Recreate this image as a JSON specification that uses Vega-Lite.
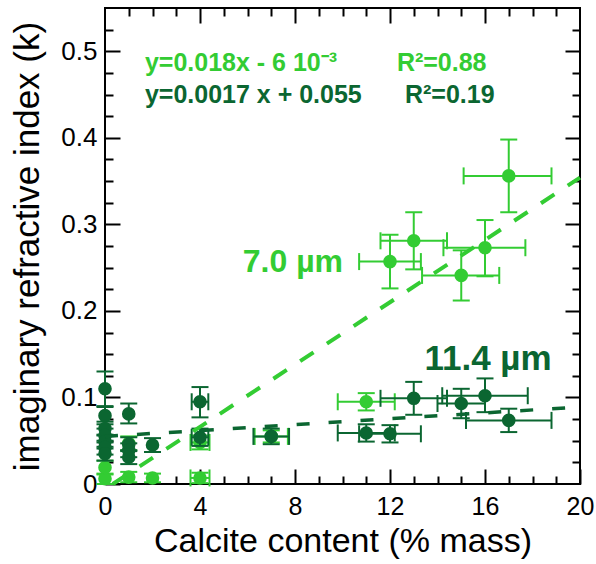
{
  "$schema": "https://vega.github.io/schema/vega-lite/v6.json",
  "width": 475,
  "height": 476,
  "autosize": "none",
  "padding": {"left": 105, "top": 8, "right": 16, "bottom": 80},
  "config": {
    "view": {"stroke": "black", "strokeWidth": 2},
    "font": "Liberation Sans",
    "axis": {"grid": false, "domain": false, "tickColor": "black", "tickWidth": 2, "labelColor": "black", "titleColor": "black", "zindex": 1}
  },
  "datasets": {
    "light": [
      {"x": 0, "y": 0.006, "xlo": null, "xhi": null, "ylo": 0.0, "yhi": 0.012},
      {"x": 0, "y": 0.019, "xlo": null, "xhi": null, "ylo": 0.011, "yhi": 0.027},
      {"x": 1, "y": 0.008, "xlo": null, "xhi": null, "ylo": 0.002, "yhi": 0.014},
      {"x": 1, "y": 0.047, "xlo": null, "xhi": null, "ylo": 0.039, "yhi": 0.055},
      {"x": 2, "y": 0.007, "xlo": null, "xhi": null, "ylo": 0.002, "yhi": 0.012},
      {"x": 4, "y": 0.007, "xlo": 3.6, "xhi": 4.4, "ylo": 0.001, "yhi": 0.013},
      {"x": 4, "y": 0.048, "xlo": 3.6, "xhi": 4.4, "ylo": 0.04, "yhi": 0.056},
      {"x": 7, "y": 0.055, "xlo": 6.3, "xhi": 7.7, "ylo": 0.048, "yhi": 0.062},
      {"x": 11, "y": 0.095, "xlo": 9.8, "xhi": 12.2, "ylo": 0.085, "yhi": 0.105},
      {"x": 12, "y": 0.257, "xlo": 10.7, "xhi": 13.3, "ylo": 0.226, "yhi": 0.288},
      {"x": 13, "y": 0.281, "xlo": 11.6, "xhi": 14.4, "ylo": 0.248, "yhi": 0.314},
      {"x": 15, "y": 0.241, "xlo": 13.35, "xhi": 16.6, "ylo": 0.212, "yhi": 0.27},
      {"x": 16, "y": 0.273, "xlo": 14.25, "xhi": 17.7, "ylo": 0.24, "yhi": 0.305},
      {"x": 17, "y": 0.356, "xlo": 15.1, "xhi": 18.8, "ylo": 0.314, "yhi": 0.398}
    ],
    "dark": [
      {"x": 0, "y": 0.11, "xlo": null, "xhi": null, "ylo": 0.09, "yhi": 0.13},
      {"x": 0, "y": 0.079, "xlo": null, "xhi": null, "ylo": 0.069, "yhi": 0.089},
      {"x": 0, "y": 0.064, "xlo": null, "xhi": null, "ylo": 0.056, "yhi": 0.072},
      {"x": 0, "y": 0.056, "xlo": null, "xhi": null, "ylo": 0.048, "yhi": 0.064},
      {"x": 0, "y": 0.049, "xlo": null, "xhi": null, "ylo": 0.041, "yhi": 0.057},
      {"x": 0, "y": 0.042, "xlo": null, "xhi": null, "ylo": 0.034, "yhi": 0.05},
      {"x": 0, "y": 0.035, "xlo": null, "xhi": null, "ylo": 0.027, "yhi": 0.043},
      {"x": 1, "y": 0.081, "xlo": null, "xhi": null, "ylo": 0.07, "yhi": 0.093},
      {"x": 1, "y": 0.046, "xlo": null, "xhi": null, "ylo": 0.038, "yhi": 0.054},
      {"x": 1, "y": 0.039, "xlo": null, "xhi": null, "ylo": 0.031, "yhi": 0.047},
      {"x": 1, "y": 0.031, "xlo": null, "xhi": null, "ylo": 0.023, "yhi": 0.039},
      {"x": 2, "y": 0.045, "xlo": null, "xhi": null, "ylo": 0.037, "yhi": 0.053},
      {"x": 4, "y": 0.095, "xlo": 3.65, "xhi": 4.35, "ylo": 0.077, "yhi": 0.112},
      {"x": 4, "y": 0.054, "xlo": 3.65, "xhi": 4.35, "ylo": 0.044, "yhi": 0.064},
      {"x": 7, "y": 0.055, "xlo": 6.25, "xhi": 7.75, "ylo": 0.046, "yhi": 0.064},
      {"x": 11, "y": 0.059, "xlo": 9.8, "xhi": 12.2, "ylo": 0.049, "yhi": 0.069},
      {"x": 12, "y": 0.058, "xlo": 10.7, "xhi": 13.3, "ylo": 0.048, "yhi": 0.068},
      {"x": 13, "y": 0.099, "xlo": 11.6, "xhi": 14.4, "ylo": 0.08, "yhi": 0.118},
      {"x": 15, "y": 0.093, "xlo": 14.0, "xhi": 16.0, "ylo": 0.076, "yhi": 0.11},
      {"x": 16, "y": 0.102, "xlo": 14.2, "xhi": 17.8, "ylo": 0.083, "yhi": 0.122},
      {"x": 17, "y": 0.0735, "xlo": 15.2, "xhi": 18.8, "ylo": 0.06, "yhi": 0.087}
    ]
  },
  "data": {"name": "light"},
  "layer": [
    {
      "mark": {"type": "point", "opacity": 0},
      "encoding": {
        "x": {"field": "x", "type": "quantitative", "scale": {"domain": [0, 20], "nice": false, "zero": false},
          "axis": {"orient": "bottom", "values": [0, 4, 8, 12, 16, 20], "tickSize": -15, "labelFontSize": 25, "labelPadding": 25, "labelFlush": false,
            "title": "Calcite content (% mass)", "titleFontSize": 34, "titleFontWeight": "normal", "titlePadding": 5}},
        "y": {"field": "y", "type": "quantitative", "scale": {"domain": [0, 0.55], "nice": false, "zero": false},
          "axis": {"orient": "left", "values": [0, 0.1, 0.2, 0.3, 0.4, 0.5], "tickSize": -15, "labelFontSize": 26, "labelPadding": 23, "labelFlush": false,
            "labelExpr": "datum.value == 0 ? '0' : format(datum.value, '.1f')",
            "title": "imaginary refractive index (k)", "titleFontSize": 35, "titleFontWeight": "normal", "titlePadding": 15}}
      }
    },
    {
      "mark": {"type": "point", "opacity": 0},
      "encoding": {
        "x": {"field": "x", "type": "quantitative",
          "axis": {"orient": "bottom", "values": [1, 2, 3, 5, 6, 7, 9, 10, 11, 13, 14, 15, 17, 18, 19], "tickSize": -8, "labels": false, "title": null}},
        "y": {"field": "y", "type": "quantitative",
          "axis": {"orient": "left", "values": [0.025, 0.05, 0.075, 0.125, 0.15, 0.175, 0.225, 0.25, 0.275, 0.325, 0.35, 0.375, 0.425, 0.45, 0.475, 0.525], "tickSize": -8, "labels": false, "title": null}}
      }
    },
    {
      "mark": {"type": "point", "opacity": 0},
      "encoding": {
        "x": {"field": "x", "type": "quantitative",
          "axis": {"orient": "top", "values": [4, 8, 12, 16], "tickSize": -15, "labels": false, "title": null}},
        "y": {"field": "y", "type": "quantitative",
          "axis": {"orient": "right", "values": [0.1, 0.2, 0.3, 0.4, 0.5], "tickSize": -15, "labels": false, "title": null}}
      }
    },
    {
      "mark": {"type": "point", "opacity": 0},
      "encoding": {
        "x": {"field": "x", "type": "quantitative",
          "axis": {"orient": "top", "values": [1, 2, 3, 5, 6, 7, 9, 10, 11, 13, 14, 15, 17, 18, 19], "tickSize": -8, "labels": false, "title": null}},
        "y": {"field": "y", "type": "quantitative",
          "axis": {"orient": "right", "values": [0.025, 0.05, 0.075, 0.125, 0.15, 0.175, 0.225, 0.25, 0.275, 0.325, 0.35, 0.375, 0.425, 0.45, 0.475, 0.525], "tickSize": -8, "labels": false, "title": null}}
      }
    },
    {
      "data": {"name": "light"},
      "layer": [
        {"mark": {"type": "rule", "color": "#33cc33", "strokeWidth": 2},
          "encoding": {"x": {"field": "xlo", "type": "quantitative", "axis": null}, "x2": {"field": "xhi"}, "y": {"field": "y", "type": "quantitative", "axis": null}}},
        {"mark": {"type": "rule", "color": "#33cc33", "strokeWidth": 2},
          "encoding": {"x": {"field": "x", "type": "quantitative", "axis": null}, "y": {"field": "ylo", "type": "quantitative", "axis": null}, "y2": {"field": "yhi"}}},
        {"mark": {"type": "tick", "orient": "vertical", "size": 17, "thickness": 2, "color": "#33cc33", "opacity": 1},
          "encoding": {"x": {"field": "xlo", "type": "quantitative", "axis": null}, "y": {"field": "y", "type": "quantitative", "axis": null}}},
        {"mark": {"type": "tick", "orient": "vertical", "size": 17, "thickness": 2, "color": "#33cc33", "opacity": 1},
          "encoding": {"x": {"field": "xhi", "type": "quantitative", "axis": null}, "y": {"field": "y", "type": "quantitative", "axis": null}}},
        {"mark": {"type": "tick", "orient": "horizontal", "size": 17, "thickness": 2, "color": "#33cc33", "opacity": 1},
          "encoding": {"x": {"field": "x", "type": "quantitative", "axis": null}, "y": {"field": "ylo", "type": "quantitative", "axis": null}}},
        {"mark": {"type": "tick", "orient": "horizontal", "size": 17, "thickness": 2, "color": "#33cc33", "opacity": 1},
          "encoding": {"x": {"field": "x", "type": "quantitative", "axis": null}, "y": {"field": "yhi", "type": "quantitative", "axis": null}}},
        {"mark": {"type": "circle", "size": 185, "color": "#33cc33", "opacity": 1},
          "encoding": {"x": {"field": "x", "type": "quantitative", "axis": null}, "y": {"field": "y", "type": "quantitative", "axis": null}}}
      ]
    },
    {
      "data": {"name": "dark"},
      "layer": [
        {"mark": {"type": "rule", "color": "#0b6631", "strokeWidth": 2},
          "encoding": {"x": {"field": "xlo", "type": "quantitative", "axis": null}, "x2": {"field": "xhi"}, "y": {"field": "y", "type": "quantitative", "axis": null}}},
        {"mark": {"type": "rule", "color": "#0b6631", "strokeWidth": 2},
          "encoding": {"x": {"field": "x", "type": "quantitative", "axis": null}, "y": {"field": "ylo", "type": "quantitative", "axis": null}, "y2": {"field": "yhi"}}},
        {"mark": {"type": "tick", "orient": "vertical", "size": 17, "thickness": 2, "color": "#0b6631", "opacity": 1},
          "encoding": {"x": {"field": "xlo", "type": "quantitative", "axis": null}, "y": {"field": "y", "type": "quantitative", "axis": null}}},
        {"mark": {"type": "tick", "orient": "vertical", "size": 17, "thickness": 2, "color": "#0b6631", "opacity": 1},
          "encoding": {"x": {"field": "xhi", "type": "quantitative", "axis": null}, "y": {"field": "y", "type": "quantitative", "axis": null}}},
        {"mark": {"type": "tick", "orient": "horizontal", "size": 17, "thickness": 2, "color": "#0b6631", "opacity": 1},
          "encoding": {"x": {"field": "x", "type": "quantitative", "axis": null}, "y": {"field": "ylo", "type": "quantitative", "axis": null}}},
        {"mark": {"type": "tick", "orient": "horizontal", "size": 17, "thickness": 2, "color": "#0b6631", "opacity": 1},
          "encoding": {"x": {"field": "x", "type": "quantitative", "axis": null}, "y": {"field": "yhi", "type": "quantitative", "axis": null}}},
        {"mark": {"type": "circle", "size": 185, "color": "#0b6631", "opacity": 1},
          "encoding": {"x": {"field": "x", "type": "quantitative", "axis": null}, "y": {"field": "y", "type": "quantitative", "axis": null}}}
      ]
    },
    {
      "data": {"values": [{"x": 0.33, "y": 0.0}, {"x": 20, "y": 0.354}]},
      "mark": {"type": "line", "color": "#33cc33", "strokeWidth": 4, "strokeDash": [16, 16]},
      "encoding": {"x": {"field": "x", "type": "quantitative", "axis": null}, "y": {"field": "y", "type": "quantitative", "axis": null}}
    },
    {
      "data": {"values": [{"x": 0, "y": 0.055}, {"x": 20, "y": 0.089}]},
      "mark": {"type": "line", "color": "#0b6631", "strokeWidth": 3.5, "strokeDash": [13, 19]},
      "encoding": {"x": {"field": "x", "type": "quantitative", "axis": null}, "y": {"field": "y", "type": "quantitative", "axis": null}}
    },
    {
      "data": {"values": [{"x": 5.8, "y": 0.256, "t": "7.0 µm"}]},
      "mark": {"type": "text", "align": "left", "baseline": "middle", "fontSize": 32, "fontWeight": "bold", "color": "#33cc33"},
      "encoding": {"x": {"field": "x", "type": "quantitative", "axis": null}, "y": {"field": "y", "type": "quantitative", "axis": null}, "text": {"field": "t"}}
    },
    {
      "data": {"values": [{"x": 13.45, "y": 0.145, "t": "11.4 µm"}]},
      "mark": {"type": "text", "align": "left", "baseline": "middle", "fontSize": 35, "fontWeight": "bold", "color": "#0b6631"},
      "encoding": {"x": {"field": "x", "type": "quantitative", "axis": null}, "y": {"field": "y", "type": "quantitative", "axis": null}, "text": {"field": "t"}}
    },
    {
      "data": {"values": [{"x": 1.68, "y": 0.487, "t": "y=0.018x - 6 10⁻³"}, {"x": 12.29, "y": 0.487, "t": "R²=0.88"}]},
      "mark": {"type": "text", "align": "left", "baseline": "middle", "fontSize": 25, "fontWeight": "bold", "color": "#33cc33"},
      "encoding": {"x": {"field": "x", "type": "quantitative", "axis": null}, "y": {"field": "y", "type": "quantitative", "axis": null}, "text": {"field": "t"}}
    },
    {
      "data": {"values": [{"x": 1.68, "y": 0.45, "t": "y=0.0017 x + 0.055"}, {"x": 12.63, "y": 0.45, "t": "R²=0.19"}]},
      "mark": {"type": "text", "align": "left", "baseline": "middle", "fontSize": 25, "fontWeight": "bold", "color": "#0b6631"},
      "encoding": {"x": {"field": "x", "type": "quantitative", "axis": null}, "y": {"field": "y", "type": "quantitative", "axis": null}, "text": {"field": "t"}}
    }
  ],
  "resolve": {"axis": {"x": "independent", "y": "independent"}}
}
